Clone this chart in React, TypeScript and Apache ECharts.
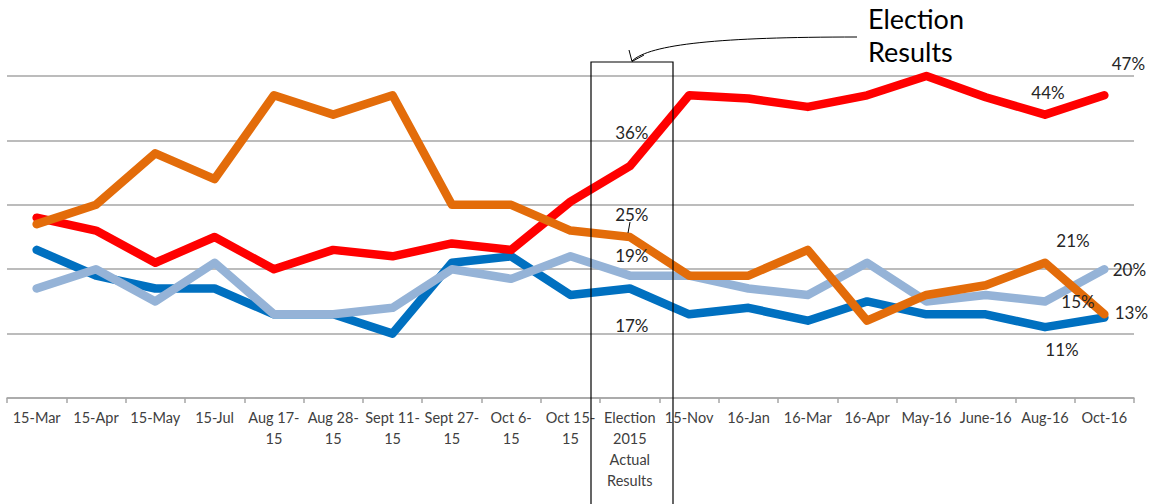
import React, { useEffect, useRef } from "react";
import * as echarts from "echarts";

const categories = [
  "15-Mar", "15-Apr", "15-May", "15-Jul", "Aug 17-\n15", "Aug 28-\n15", "Sept 11-\n15",
  "Sept 27-\n15", "Oct 6-\n15", "Oct 15-\n15", "Election\n2015\nActual\nResults",
  "15-Nov", "16-Jan", "16-Mar", "16-Apr", "May-16", "June-16", "Aug-16", "Oct-16",
];

const redValues = [28, 26, 21, 25, 20, 23, 22, 24, 23, 30.5, 36, 47, 46.5, 45.2, 47, 50, 46.7, 44, 47];
const orangeValues = [27, 30, 38, 34, 47, 44, 47, 30, 30, 26, 25, 19, 19, 23, 12, 16, 17.5, 21, 13];
const blueValues = [23, 19, 17, 17, 13, 13, 10, 21, 22, 16, 17, 13, 14, 12, 15, 13, 13, 11, 12.5];
const lightBlueValues = [17, 20, 15, 21, 13, 13, 14, 20, 18.5, 22, 19, 19, 17, 16, 21, 15, 16, 15, 20];

// label offsets (index -> [dx, dy]) per series
const redLabels: Record<number, number[]> = { 10: [2, -34], 17: [3, -22], 18: [24, -32] };
const orangeLabels: Record<number, number[]> = { 10: [2, -23], 17: [28, -22], 18: [27, -2] };
const blueLabels: Record<number, number[]> = { 10: [2, 37], 17: [17, 22] };
const lightBlueLabels: Record<number, number[]> = { 10: [2, -20], 17: [33, 0], 18: [25, 0] };

const FONT = "Lato, 'Open Sans', sans-serif";

function buildData(values: number[], labels: Record<number, number[]>) {
  return values.map((v, i) => {
    const off = labels[i];
    if (!off) return v;
    return {
      value: v,
      label: {
        show: true,
        position: "inside",
        offset: off,
        formatter: () => Math.round(v) + "%",
        fontSize: 17,
        color: "#262626",
        fontFamily: FONT,
        align: "center",
        verticalAlign: "middle",
      },
    };
  });
}

function makeSeries(name: string, color: string, values: number[], labels: Record<number, number[]>) {
  return {
    name,
    type: "line",
    data: buildData(values, labels),
    symbol: "circle",
    symbolSize: 0,
    showSymbol: true,
    lineStyle: { color, width: 8.5, cap: "round", join: "round" },
    itemStyle: { color },
    label: { show: false },
    emphasis: { disabled: true },
    clip: false,
  };
}

export default function App() {
  const ref = useRef<HTMLDivElement>(null);
  useEffect(() => {
    if (!ref.current) return;
    const chart = echarts.init(ref.current, null, { renderer: "svg" });
    chart.setOption({
      animation: false,
      textStyle: { fontFamily: FONT },
      grid: { left: 7, right: 22, top: 76, bottom: 106, containLabel: false, show: false },
      xAxis: {
        type: "category",
        data: categories,
        boundaryGap: true,
        splitLine: { show: false },
        axisLine: { lineStyle: { color: "#A6A6A6", width: 1.5 } },
        axisTick: { show: true, length: 5, lineStyle: { color: "#A6A6A6", width: 1.5 } },
        axisLabel: {
          interval: 0,
          color: "#404040",
          fontSize: 14.5,
          lineHeight: 21,
          margin: 9,
          fontFamily: FONT,
          verticalAlign: "top",
        },
      },
      yAxis: {
        type: "value",
        min: 0,
        max: 50,
        interval: 10,
        axisLabel: { show: false },
        axisLine: { show: false },
        axisTick: { show: false },
        splitLine: { lineStyle: { color: "#A6A6A6", width: 1.5 } },
      },
      series: [
        makeSeries("Blue", "#0070C0", blueValues, blueLabels),
        makeSeries("LightBlue", "#95B3D7", lightBlueValues, lightBlueLabels),
        makeSeries("Red", "#FF0000", redValues, redLabels),
        makeSeries("Orange", "#E36C0A", orangeValues, orangeLabels),
      ],
      graphic: [
        {
          type: "rect",
          z: 100,
          shape: { x: 591, y: 62, width: 82, height: 460 },
          style: { fill: "none", stroke: "#000", lineWidth: 1.2 },
        },
        {
          type: "text",
          z: 100,
          x: 868,
          y: 18,
          style: { text: "Election", font: `27px ${FONT}`, fill: "#000", verticalAlign: "middle" },
        },
        {
          type: "text",
          z: 100,
          x: 868,
          y: 51,
          style: { text: "Results", font: `27px ${FONT}`, fill: "#000", verticalAlign: "middle" },
        },
        {
          type: "bezierCurve",
          z: 100,
          shape: { x1: 857, y1: 37, cpx1: 720, cpy1: 37, cpx2: 650, cpy2: 44, x2: 632, y2: 61 },
          style: { stroke: "#000", lineWidth: 1, fill: "none" },
        },
        {
          type: "polyline",
          z: 100,
          shape: { points: [[629, 50], [632, 61.5], [644, 55]] },
          style: { stroke: "#000", lineWidth: 1, fill: "none" },
        },
        {
          type: "line",
          z: 100,
          shape: { x1: 630, y1: 222, x2: 628, y2: 233 },
          style: { stroke: "#000", lineWidth: 1 },
        },
      ],
    });
    return () => chart.dispose();
  }, []);
  return (
    <div
      ref={ref}
      style={{ position: "absolute", left: 0, top: 0, width: 1156, height: 504, background: "#fff" }}
    />
  );
}
